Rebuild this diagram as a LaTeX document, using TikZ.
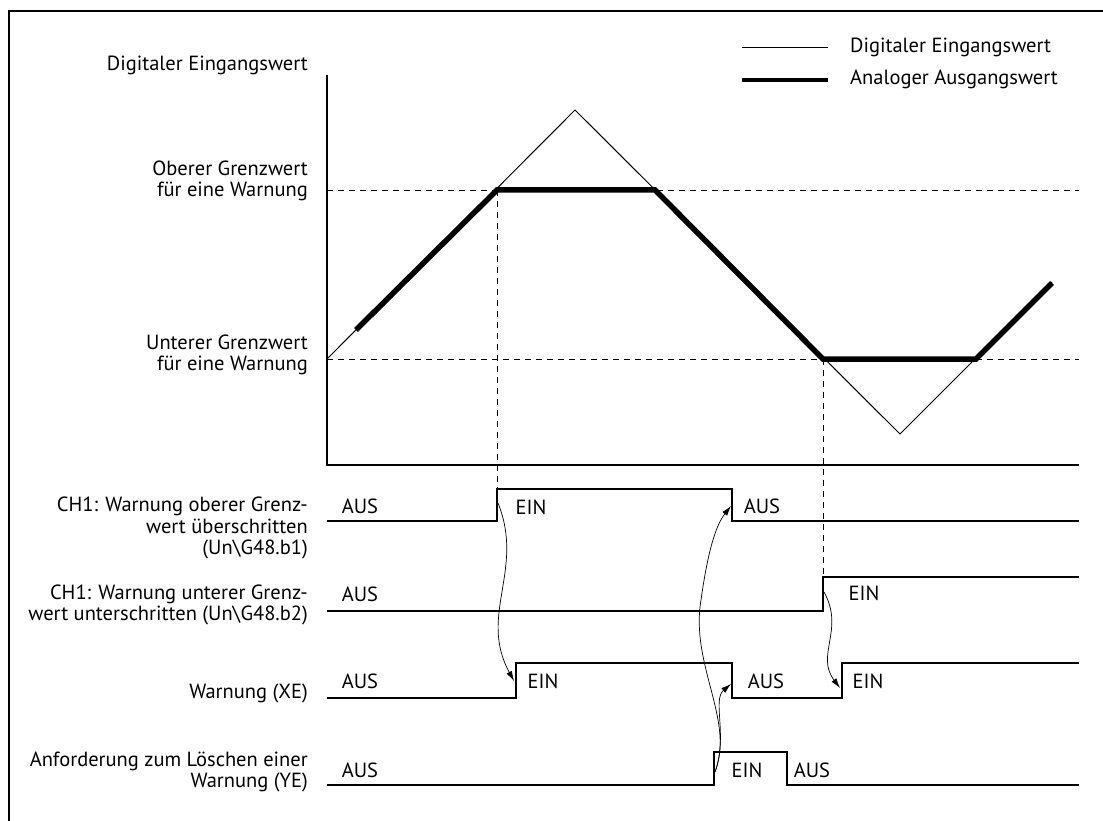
\documentclass[tikz,border=0pt]{standalone}
\usepackage{fontspec}
\setmainfont{PT Sans}
\usetikzlibrary{arrows.meta}
\begin{document}
\begin{tikzpicture}[x=1pt,y=-1pt,
  frame/.style={line width=2pt},
  axis/.style={line width=2.5pt},
  sig/.style={line width=2.4pt, line join=miter},
  digital/.style={line width=1pt},
  analog/.style={line width=5.5pt, line join=miter},
  guide/.style={dash pattern=on 6pt off 5pt, line width=0.9pt},
  cause/.style={line width=0.7pt, -{Latex[length=10pt,width=6pt]}},
  txt/.style={font=\fontsize{20.5}{21.5}\selectfont, inner sep=0pt},
  lbl/.style={txt, align=right, anchor=east},
  legtext/.style={txt, anchor=west},
  state/.style={txt}]
\useasboundingbox (0,0) rectangle (1103,821);

% frame (top and left edge)
\draw[frame] (9,821) -- (9,11) -- (1103,11);

% legend
\coordinate (l1a) at (742,48); \coordinate (l1b) at (828,48);
\coordinate (l2a) at (742,80); \coordinate (l2b) at (828,80);
\draw[digital] (l1a) -- (l1b);
\draw[line width=4.5pt] (l2a) -- (l2b);
\node[legtext] (leg1) at (850,47) {Digitaler Eingangswert};
\node[legtext] (leg2) at (850,79) {Analoger Ausgangswert};

% axis labels
\node[lbl] (yl) at (308,65) {Digitaler Eingangswert};
\node[lbl] (ol) at (308,181) {Oberer Grenzwert\\für eine Warnung};
\node[lbl] (ul) at (308,355) {Unterer Grenzwert\\für eine Warnung};

% axes
\coordinate (ytop) at (327,75);
\coordinate (orig) at (327,465);
\coordinate (xend) at (1079,465);
\draw[axis] (ytop) -- (orig) -- (xend);

% limit guides
\coordinate (hiA) at (327,190); \coordinate (hiB) at (1079,190);
\coordinate (loA) at (327,359); \coordinate (loB) at (1079,359);
\draw[guide] (hiA) -- (hiB);
\draw[guide] (loA) -- (loB);

% digital input
\coordinate (d0) at (327,359);
\coordinate (dpk) at (575,110);
\coordinate (dtr) at (900,434);
\coordinate (d1) at (1052,282);
\draw[digital] (d0) -- (dpk) -- (dtr) -- (d1);

% analog output
\coordinate (a0) at (356,330);
\coordinate (a1) at (497,190);
\coordinate (a2) at (655,190);
\coordinate (a3) at (823,359);
\coordinate (a4) at (976,359);
\coordinate (a5) at (1052,283);
\draw[analog] (a0) -- (a1) -- (a2) -- (a3) -- (a4) -- (a5);

% row 1: upper limit exceeded
\coordinate (r1s) at (327,521);
\coordinate (r1u) at (497,489);
\coordinate (r1d) at (732,489);
\coordinate (r1e) at (1079,521);
\draw[sig] (r1s) -- (r1s -| r1u) -- (r1u) -- (r1d) -- (r1d |- r1s) -- (r1e);
\draw[guide] (a1) -- (r1u);

% row 2: lower limit undershot
\coordinate (r2s) at (327,611);
\coordinate (r2u) at (823,577);
\coordinate (r2e) at (1079,577);
\draw[sig] (r2s) -- (r2s -| r2u) -- (r2u) -- (r2e);
\draw[guide] (a3) -- (r2u);

% row 3: warning XE
\coordinate (r3s) at (327,698);
\coordinate (r3u) at (516,663);
\coordinate (r3d) at (732,663);
\coordinate (r3u2) at (842,663);
\coordinate (r3e) at (1079,663);
\draw[sig] (r3s) -- (r3s -| r3u) -- (r3u) -- (r3d) -- (r3d |- r3s) -- (r3s -| r3u2) -- (r3u2) -- (r3e);

% row 4: clear request YE
\coordinate (r4s) at (327,785);
\coordinate (r4u) at (714,752);
\coordinate (r4d) at (787,752);
\coordinate (r4e) at (1079,785);
\draw[sig] (r4s) -- (r4s -| r4u) -- (r4u) -- (r4d) -- (r4d |- r4s) -- (r4e);

% row labels
\node[lbl] (n1) at (308,528) {CH1: Warnung oberer Grenz-\\wert überschritten\\(Un\textbackslash G48.b1)};
\node[lbl] (n2) at (308,605) {CH1: Warnung unterer Grenz-\\wert unterschritten (Un\textbackslash G48.b2)};
\node[lbl] (n3) at (308,693) {Warnung (XE)};
\node[lbl] (n4) at (308,772) {Anforderung zum Löschen einer\\Warnung (YE)};

% states
\node[state] (s11) at (360,506) {AUS};
\node[state] (s12) at (531,507) {EIN};
\node[state] (s13) at (762,506) {AUS};
\node[state] (s21) at (360,594) {AUS};
\node[state] (s22) at (864,593) {EIN};
\node[state] (s31) at (360,681) {AUS};
\node[state] (s32) at (543,681) {EIN};
\node[state] (s33) at (766,681) {AUS};
\node[state] (s34) at (868,681) {EIN};
\node[state] (s41) at (360,770) {AUS};
\node[state] (s42) at (747,770) {EIN};
\node[state] (s43) at (812,770) {AUS};

% cause arrows
\coordinate (c1a) at (498,503); \coordinate (c1b) at (514,681);
\draw[cause] (c1a) .. controls (525,570) and (478,615) .. (c1b);
\coordinate (c2a) at (824,592); \coordinate (c2b) at (840,688);
\draw[cause] (c2a) .. controls (845,630) and (815,655) .. (c2b);
\coordinate (c3a) at (715,772); \coordinate (c3m) at (701,600);
\coordinate (c3b) at (731,506); \coordinate (c4b) at (731,684);
\draw[cause] (c3a) .. controls (735,720) and (690,665) .. (c3m) .. controls (708,550) and (716,525) .. (c3b);
\draw[cause] (c3a) .. controls (728,735) and (712,700) .. (c4b);
\end{tikzpicture}
\end{document}
